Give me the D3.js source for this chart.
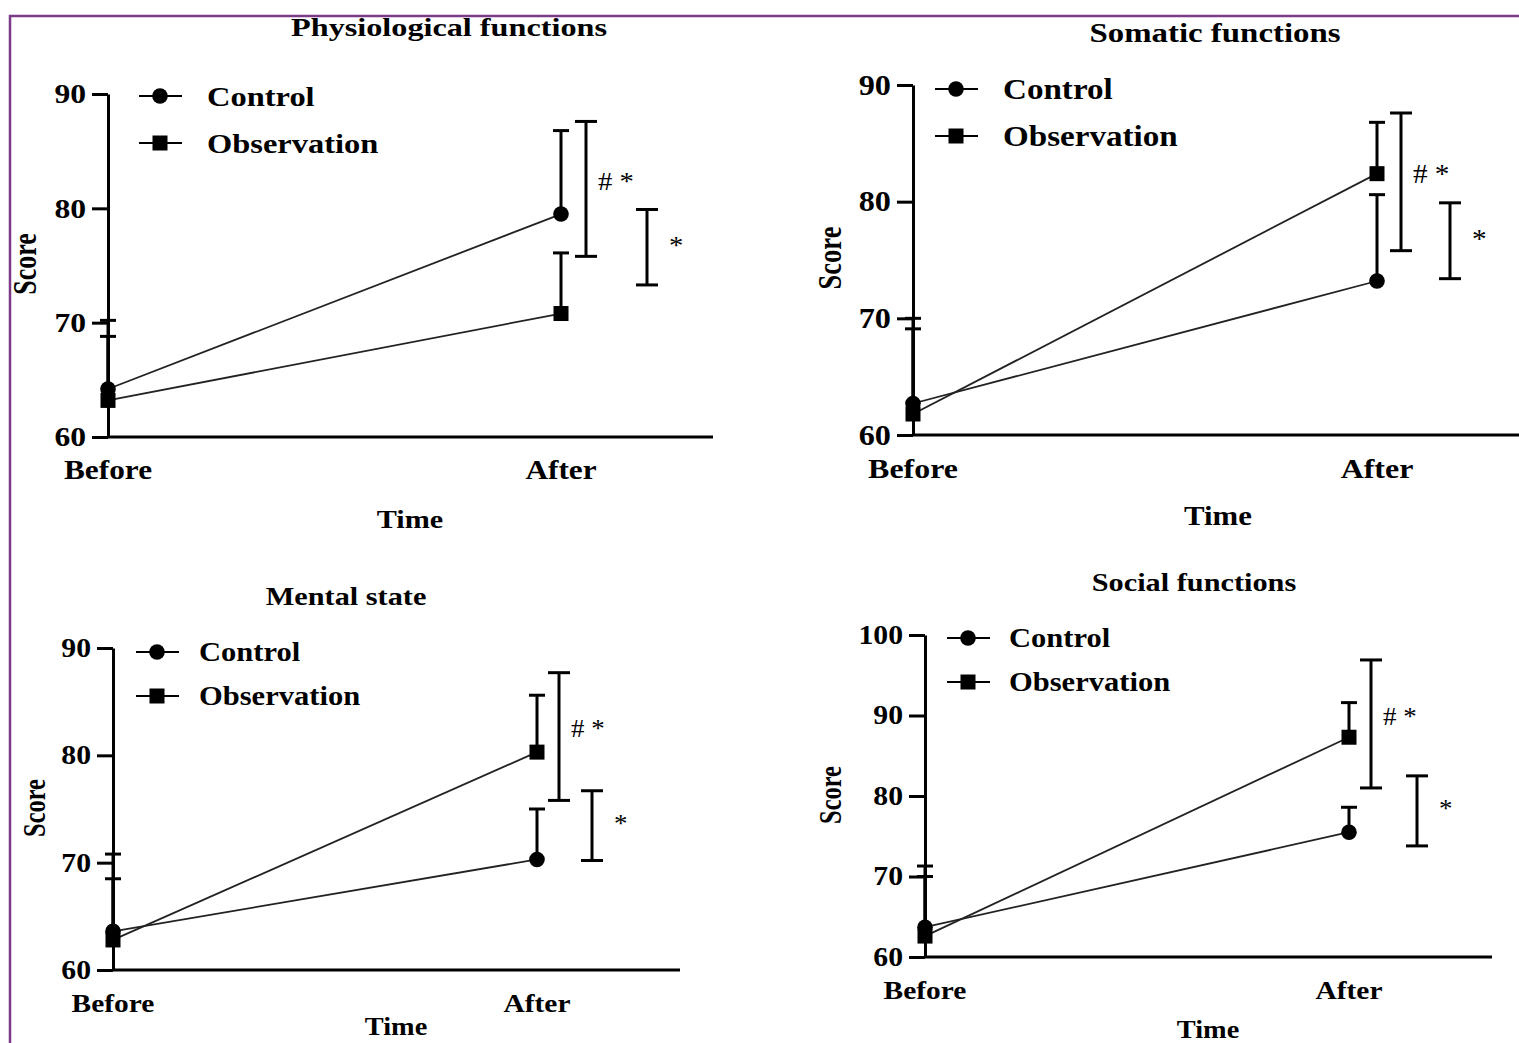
<!DOCTYPE html>
<html>
<head>
<meta charset="utf-8">
<script src="https://cdn.jsdelivr.net/npm/d3@7"></script>
<style>
  body { margin: 0; background: #fff; }
  svg { display: block; }
  text { font-family: "Liberation Serif", "Times New Roman", serif; fill: #000; }
</style>
</head>
<body>
<div id="chart"></div>
<script>
// ---- data ----
var times = ["Before", "After"];
var panelTitles = ["Physiological functions", "Somatic functions", "Mental state", "Social functions"];
var seriesNames = ["Control", "Observation"];
var yMax = [90, 90, 90, 100];

var controlMean = [[64.2, 79.5], [62.7, 73.2], [63.6, 70.3], [63.7, 75.5]];
var controlSD   = [[6.0, 7.3],   [7.3, 7.4],   [7.2, 4.7],   [7.6, 3.1]];
var obsMean     = [[63.2, 70.8], [61.8, 82.4], [62.8, 80.3], [62.6, 87.3]];
var obsSD       = [[5.6, 5.3],   [7.3, 4.4],   [5.7, 5.3],   [7.4, 4.3]];

// significance brackets [top, bottom]
var sigBetween = [[87.6, 75.8], [87.6, 75.8], [87.7, 75.8], [96.9, 81.0]];
var sigWithin  = [[79.9, 73.3], [79.9, 73.4], [76.7, 70.2], [82.5, 73.8]];
var sigLabels  = ["# *", "*"];

// ---- layout of each panel (pixels) ----
var layout = [
  {ax: 108, after: 561, end: 713, top: 94, bot: 437, tx: 449, ty: 27, ly: 96, lstep: 47, lx: 139, ltx: 68, b1: 25, b2: 86, timeX: 410, timeY: 519, sx: 24, sy: 264, fs: 1},
  {ax: 913, after: 1377, end: 1519, top: 85, bot: 435, tx: 1215, ty: 33, ly: 89, lstep: 47, lx: 935, ltx: 68, b1: 24, b2: 73, timeX: 1218, timeY: 516, sx: 829, sy: 258, fs: 1.02},
  {ax: 113, after: 537, end: 680, top: 648, bot: 970, tx: 346, ty: 596, ly: 652, lstep: 44, lx: 136, ltx: 63, b1: 22, b2: 55, timeX: 396, timeY: 1026, sx: 34, sy: 808, fs: 0.94},
  {ax: 925, after: 1349, end: 1492, top: 635, bot: 957, tx: 1194, ty: 582, ly: 638, lstep: 44, lx: 947, ltx: 62, b1: 22, b2: 68, timeX: 1208, timeY: 1029, sx: 830, sy: 795, fs: 0.94}
];

var W = 1519, H = 1043;
var stretch = 1.16;

var svg = d3.select("#chart")
    .append("svg")
    .attr("width", W)
    .attr("height", H);

// purple frame
svg.append("path")
    .attr("d", "M10," + H + "V16H" + W)
    .attr("fill", "none")
    .attr("stroke", "#7b3b88")
    .attr("stroke-width", 2.5);

function label(g, x, y, str, size, anchor, bold, sx) {
  return g.append("text")
      .attr("transform", "translate(" + x + "," + y + ") scale(" + (sx || stretch) + ",1)")
      .attr("dy", "0.35em")
      .attr("text-anchor", anchor || "middle")
      .attr("font-size", size)
      .attr("font-weight", bold === false ? "normal" : "bold")
      .text(str);
}

function drawMarker(g, shape, cx, cy) {
  if (shape === "circle") {
    g.append("circle").attr("cx", cx).attr("cy", cy).attr("r", 7.8).attr("fill", "#000");
  } else {
    g.append("rect").attr("x", cx - 7.5).attr("y", cy - 7.5).attr("width", 15).attr("height", 15).attr("fill", "#000");
  }
}

function bracket(g, x, y1, y2, w) {
  g.append("line").attr("x1", x).attr("x2", x).attr("y1", y1).attr("y2", y2);
  g.append("line").attr("x1", x - w / 2).attr("x2", x + w / 2).attr("y1", y1).attr("y2", y1);
  g.append("line").attr("x1", x - w / 2).attr("x2", x + w / 2).attr("y1", y2).attr("y2", y2);
}

layout.forEach(function(L, i) {
  var g = svg.append("g");
  var fs = L.fs;

  var y = d3.scaleLinear().domain([60, yMax[i]]).range([L.bot, L.top]);
  var x = d3.scaleLinear().domain([0, times.length - 1]).range([L.ax, L.after]);

  // y axis
  var yAxis = g.append("g")
      .attr("transform", "translate(" + L.ax + ",0)")
      .call(d3.axisLeft(y).tickValues(d3.range(60, yMax[i] + 1, 10)).tickSize(16).tickSizeOuter(0).tickPadding(6));
  yAxis.selectAll("path, line").attr("stroke", "#000").attr("stroke-width", 3);
  yAxis.selectAll("text")
      .attr("font-size", 28 * fs)
      .attr("font-weight", "bold")
      .attr("font-family", "Liberation Serif, Times New Roman, serif")
      .attr("fill", "#000")
      .attr("x", -22 / 1.13)
      .attr("transform", "scale(1.13,1)");

  // x axis line + category labels
  g.append("line")
      .attr("x1", L.ax).attr("x2", L.end)
      .attr("y1", L.bot).attr("y2", L.bot)
      .attr("stroke", "#000").attr("stroke-width", 3);
  times.forEach(function(t, j) {
    label(g, x(j), L.bot + 33, t, 27 * fs);
  });

  // titles
  label(g, L.tx, L.ty, panelTitles[i], 26 * fs, "middle", true, 1.24);
  label(g, L.timeX, L.timeY, "Time", 26 * fs);
  g.append("text")
      .attr("transform", "translate(" + L.sx + "," + L.sy + ") rotate(-90) scale(1,1.3)")
      .attr("dy", "0.35em")
      .attr("text-anchor", "middle")
      .attr("font-size", 26 * fs)
      .attr("font-weight", "bold")
      .text("Score");

  var series = [
    {name: seriesNames[0], mean: controlMean[i], sd: controlSD[i], shape: "circle"},
    {name: seriesNames[1], mean: obsMean[i], sd: obsSD[i], shape: "square"}
  ];

  var line = d3.line()
      .x(function(d, j) { return x(j); })
      .y(function(d) { return y(d); });

  // connecting lines
  series.forEach(function(s) {
    g.append("path")
        .attr("d", line(s.mean))
        .attr("fill", "none")
        .attr("stroke", "#222")
        .attr("stroke-width", 1.8);
  });

  // error bars (upper only)
  var eb = g.append("g").attr("stroke", "#000").attr("stroke-width", 3);
  series.forEach(function(s) {
    s.mean.forEach(function(m, j) {
      var top = y(m + s.sd[j]);
      eb.append("line").attr("x1", x(j)).attr("x2", x(j)).attr("y1", y(m)).attr("y2", top);
      eb.append("line").attr("x1", x(j) - 8).attr("x2", x(j) + 8).attr("y1", top).attr("y2", top);
    });
  });

  // markers
  series.forEach(function(s) {
    s.mean.forEach(function(m, j) { drawMarker(g, s.shape, x(j), y(m)); });
  });

  // significance brackets
  var br = g.append("g").attr("stroke", "#000").attr("stroke-width", 3);
  var bx1 = L.after + L.b1, bx2 = L.after + L.b2;
  bracket(br, bx1, y(sigBetween[i][0]), y(sigBetween[i][1]), 22);
  bracket(br, bx2, y(sigWithin[i][0]), y(sigWithin[i][1]), 22);
  label(g, bx1 + 12, (y(sigBetween[i][0]) + y(sigBetween[i][1])) / 2 - 8, sigLabels[0], 26 * fs, "start", false, 1.1)
      .attr("fill", "#222");
  label(g, bx2 + 22, (y(sigWithin[i][0]) + y(sigWithin[i][1])) / 2 - 2, sigLabels[1], 26 * fs, "start", false, 1.1)
      .attr("fill", "#222");

  // legend
  series.forEach(function(s, k) {
    var ly = L.ly + k * L.lstep;
    g.append("line")
        .attr("x1", L.lx).attr("x2", L.lx + 43)
        .attr("y1", ly).attr("y2", ly)
        .attr("stroke", "#000").attr("stroke-width", 2);
    drawMarker(g, s.shape, L.lx + 21, ly);
    label(g, L.lx + L.ltx, ly, s.name, 28 * fs, "start");
  });
});
</script>
</body>
</html>
